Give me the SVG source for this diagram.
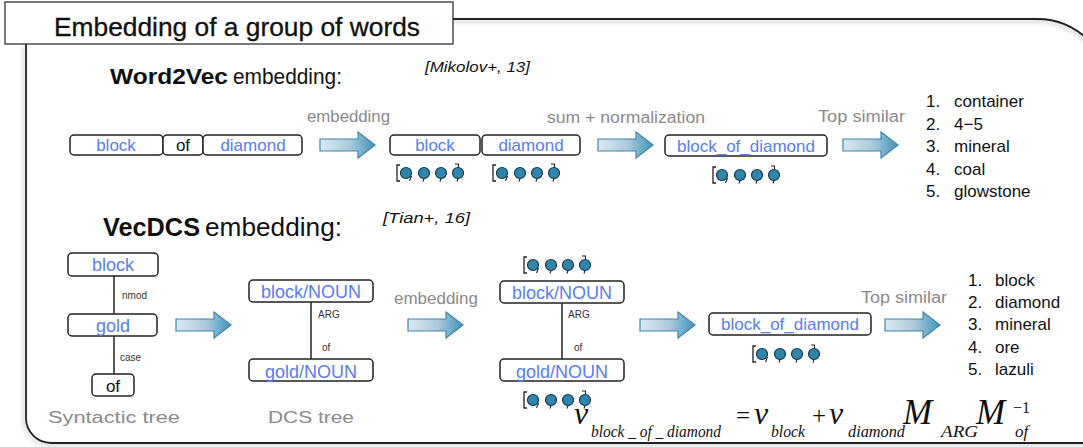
<svg xmlns="http://www.w3.org/2000/svg" xmlns:xlink="http://www.w3.org/1999/xlink" width="1083" height="447" viewBox="0 0 1083 447">
<style>
.box{fill:#fff;stroke:#222;stroke-width:1.5}
.lbl{font-family:"Liberation Sans",Arial,sans-serif;font-size:17px;fill:#5a7cf0;text-anchor:middle}
.lbl2{font-family:"Liberation Sans",Arial,sans-serif;font-size:18px;fill:#5a7cf0;text-anchor:middle}
.lblb{font-family:"Liberation Sans",Arial,sans-serif;font-size:17px;fill:#111;text-anchor:middle}
.gray{font-family:"Liberation Sans",Arial,sans-serif;font-size:16px;fill:#8a8a8a}
.edge{font-family:"Liberation Sans",Arial,sans-serif;font-size:10px;fill:#333}
.list{font-family:"Liberation Sans",Arial,sans-serif;font-size:17px;fill:#111}
.head{font-family:"Liberation Sans",Arial,sans-serif;fill:#111}
.cite{font-family:"Liberation Sans",Arial,sans-serif;font-size:14px;font-style:italic;fill:#111}
.tline{stroke:#222;stroke-width:1.5}
.fm{font-family:"Liberation Serif","Times New Roman",serif;font-style:italic;fill:#111}
.fr{font-family:"Liberation Serif","Times New Roman",serif;fill:#111}
.arrow{fill:url(#ag);stroke:#3f86a8;stroke-width:1.2}
</style>
<defs>
<linearGradient id="ag" x1="0" y1="0" x2="1" y2="0">
<stop offset="0" stop-color="#dbe8f0"/>
<stop offset="0.55" stop-color="#a9c9db"/>
<stop offset="1" stop-color="#3f93ba"/>
</linearGradient>
<filter id="sh" x="-5%" y="-5%" width="110%" height="110%">
<feGaussianBlur in="SourceAlpha" stdDeviation="2"/>
<feOffset dx="-2" dy="2"/>
<feComponentTransfer><feFuncA type="linear" slope="0.25"/></feComponentTransfer>
<feMerge><feMergeNode/><feMergeNode in="SourceGraphic"/></feMerge>
</filter>
<path id="arr" class="arrow" d="M0,-6 H38 V-13 L55,0 L38,13 V6 H0 Z"/>
<g id="vec">
<path d="M4,-8 H1 V8 H4" fill="none" stroke="#222" stroke-width="1.3"/>
<g fill="#2f86ab" stroke="#16384a" stroke-width="1.2">
<circle cx="10" cy="0" r="5.5"/>
<circle cx="28" cy="0" r="5.5"/>
<circle cx="45" cy="0" r="5.5"/>
<circle cx="62" cy="0" r="5.5"/>
</g>
<path d="M15.5,3 L13.5,8 M28,5.5 L27,8.5 M45,5.5 L44,8.5 M62,5.5 L61,8.5 M59,-9 H62.5 V-5.5" fill="none" stroke="#222" stroke-width="1.1"/>
</g>
</defs>

<g id="frame">
<path d="M26,44 V418 A25,25 0 0 0 51,443 H1110 V92 A73,73 0 0 0 1037,19 H453" fill="none" stroke="#222" stroke-width="1.8" filter="url(#sh)"/>
</g>

<g id="title">
<rect x="5" y="2" width="448" height="42" fill="#fff" stroke="#333" stroke-width="1.3"/>
<text class="head" x="237" y="36" font-size="25" text-anchor="middle" textLength="366" lengthAdjust="spacingAndGlyphs" stroke="#111" stroke-width="0.3">Embedding of a group of words</text>
</g>

<g id="headings">
<text class="head" x="110" y="84" font-size="22"><tspan font-weight="bold" textLength="118" lengthAdjust="spacingAndGlyphs">Word2Vec</tspan><tspan x="233" textLength="109" lengthAdjust="spacingAndGlyphs">embedding:</tspan></text>
<text class="cite" x="425" y="72" textLength="105" lengthAdjust="spacingAndGlyphs">[Mikolov+, 13]</text>
<text class="head" x="103" y="236" font-size="25"><tspan font-weight="bold" textLength="97" lengthAdjust="spacingAndGlyphs">VecDCS</tspan><tspan x="205" textLength="137" lengthAdjust="spacingAndGlyphs">embedding:</tspan></text>
<text class="cite" x="383" y="223" textLength="87" lengthAdjust="spacingAndGlyphs">[Tian+, 16]</text>
</g>

<g id="w2v-input">
<rect class="box" x="70" y="135" width="93" height="20" rx="4"/>
<text class="lbl" x="116" y="151">block</text>
<rect class="box" x="163" y="135" width="40" height="20" rx="4"/>
<text class="lblb" x="183" y="151">of</text>
<rect class="box" x="203" y="135" width="99" height="20" rx="4"/>
<text class="lbl" x="253" y="151">diamond</text>
</g>

<g id="w2v-embedded">
<rect class="box" x="390" y="135" width="90" height="20" rx="4"/>
<text class="lbl" x="435" y="151">block</text>
<rect class="box" x="482" y="135" width="98" height="20" rx="4"/>
<text class="lbl" x="531" y="151">diamond</text>
<use xlink:href="#vec" x="396" y="173"/>
<use xlink:href="#vec" x="492" y="173"/>
</g>

<g id="w2v-sum">
<rect class="box" x="665" y="135" width="162" height="21" rx="4"/>
<text class="lbl" x="746" y="152">block_of_diamond</text>
<use xlink:href="#vec" x="712" y="175"/>
</g>

<g id="w2v-list">
<text class="list" x="926" y="107">1.</text><text class="list" x="954" y="107">container</text>
<text class="list" x="926" y="130">2.</text><text class="list" x="954" y="130">4−5</text>
<text class="list" x="926" y="152">3.</text><text class="list" x="954" y="152">mineral</text>
<text class="list" x="926" y="175">4.</text><text class="list" x="954" y="175">coal</text>
<text class="list" x="926" y="197">5.</text><text class="list" x="954" y="197">glowstone</text>
</g>

<g id="syn-block">
<rect class="box" x="68" y="253" width="90" height="23" rx="4"/>
<text class="lbl2" x="113" y="271">block</text>
</g>
<g id="syn-gold">
<rect class="box" x="68" y="314" width="89" height="22" rx="4"/>
<text class="lbl2" x="113" y="332">gold</text>
</g>
<g id="syn-of">
<rect class="box" x="92" y="374" width="42" height="22" rx="4"/>
<text class="lblb" x="113" y="392" font-size="18">of</text>
</g>

<g id="dcs-block">
<rect class="box" x="249" y="280" width="124" height="22" rx="4"/>
<text class="lbl2" x="311" y="298">block/NOUN</text>
</g>
<g id="dcs-gold">
<rect class="box" x="249" y="359" width="124" height="22" rx="4"/>
<text class="lbl2" x="311" y="378">gold/NOUN</text>
</g>

<g id="emb-block">
<use xlink:href="#vec" x="523" y="265"/>
<rect class="box" x="500" y="281" width="124" height="22" rx="4"/>
<text class="lbl2" x="562" y="299">block/NOUN</text>
</g>
<g id="emb-gold">
<rect class="box" x="500" y="359" width="124" height="22" rx="4"/>
<text class="lbl2" x="562" y="378">gold/NOUN</text>
<use xlink:href="#vec" x="523" y="400"/>
</g>

<g id="vec-result">
<rect class="box" x="709" y="313" width="162" height="22" rx="4"/>
<text class="lbl" x="790" y="330">block_of_diamond</text>
<use xlink:href="#vec" x="752" y="354"/>
</g>

<g id="vec-list">
<text class="list" x="968" y="286">1.</text><text class="list" x="995" y="286">block</text>
<text class="list" x="968" y="308">2.</text><text class="list" x="995" y="308">diamond</text>
<text class="list" x="968" y="330">3.</text><text class="list" x="995" y="330">mineral</text>
<text class="list" x="968" y="353">4.</text><text class="list" x="995" y="353">ore</text>
<text class="list" x="968" y="375">5.</text><text class="list" x="995" y="375">lazuli</text>
</g>

<g id="connectors">
<line class="tline" x1="114" y1="276" x2="114" y2="314"/>
<line class="tline" x1="114" y1="336" x2="114" y2="374"/>
<text class="edge" x="122" y="299">nmod</text>
<text class="edge" x="120" y="361">case</text>
<line class="tline" x1="311" y1="302" x2="311" y2="359"/>
<text class="edge" x="318" y="318">ARG</text>
<text class="edge" x="322" y="351">of</text>
<line class="tline" x1="562" y1="303" x2="562" y2="359"/>
<text class="edge" x="568" y="318">ARG</text>
<text class="edge" x="574" y="351">of</text>

<use xlink:href="#arr" x="320" y="145"/>
<use xlink:href="#arr" x="598" y="145"/>
<use xlink:href="#arr" x="843" y="145"/>
<use xlink:href="#arr" x="176" y="325"/>
<use xlink:href="#arr" x="408" y="325"/>
<use xlink:href="#arr" x="640" y="325"/>
<use xlink:href="#arr" x="885" y="325"/>

<text class="gray" x="307" y="122" textLength="83" lengthAdjust="spacingAndGlyphs">embedding</text>
<text class="gray" x="547" y="123" textLength="158" lengthAdjust="spacingAndGlyphs">sum + normalization</text>
<text class="gray" x="818" y="122" textLength="87" lengthAdjust="spacingAndGlyphs">Top similar</text>
<text class="gray" x="394" y="304" textLength="84" lengthAdjust="spacingAndGlyphs">embedding</text>
<text class="gray" x="861" y="303" textLength="86" lengthAdjust="spacingAndGlyphs">Top similar</text>
</g>

<g id="captions">
<text class="gray" x="48" y="423" font-size="20" textLength="132" lengthAdjust="spacingAndGlyphs">Syntactic tree</text>
<text class="gray" x="268" y="423" font-size="20" textLength="86" lengthAdjust="spacingAndGlyphs">DCS tree</text>
</g>

<g id="formula">
<text class="fm" x="574" y="424" font-size="32">v</text>
<text class="fm" x="591" y="437" font-size="17" textLength="130" lengthAdjust="spacingAndGlyphs">block _ of _ diamond</text>
<text class="fr" x="736" y="424" font-size="25">=</text>
<text class="fm" x="754" y="424" font-size="32">v</text>
<text class="fm" x="771" y="437" font-size="16" textLength="34" lengthAdjust="spacingAndGlyphs">block</text>
<text class="fr" x="812" y="424" font-size="25">+</text>
<text class="fm" x="829" y="424" font-size="32">v</text>
<text class="fm" x="848" y="437" font-size="16" textLength="57" lengthAdjust="spacingAndGlyphs">diamond</text>
<text class="fm" x="903" y="424" font-size="35">M</text>
<text class="fm" x="941" y="437" font-size="17" textLength="37" lengthAdjust="spacingAndGlyphs">ARG</text>
<text class="fm" x="976" y="424" font-size="35">M</text>
<text class="fr" x="1013" y="413" font-size="16">−1</text>
<text class="fm" x="1015" y="437" font-size="17">of</text>
</g>
</svg>
